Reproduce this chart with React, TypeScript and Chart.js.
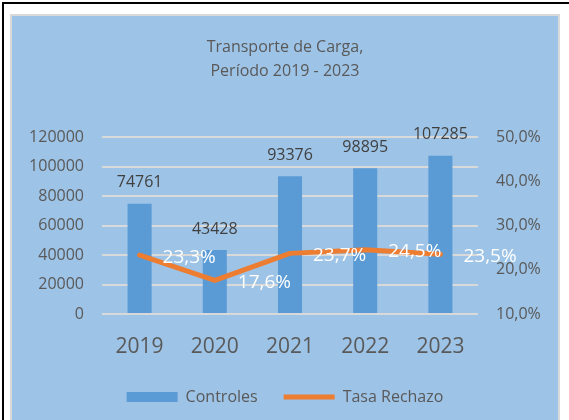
import React, { useEffect, useRef } from "react";
import { Chart, registerables } from "chart.js";

Chart.register(...registerables);

const categories = ["2019", "2020", "2021", "2022", "2023"];
const controles = [74761, 43428, 93376, 98895, 107285];
const tasaRechazo = [23.3, 17.6, 23.7, 24.5, 23.5];
const titleLines = ["Transporte de Carga,", "Período 2019 - 2023"];
const seriesNames = ["Controles", "Tasa Rechazo"];

const FONT = "'Open Sans', sans-serif";
const fmtPct = (v: number) => v.toFixed(1).replace(".", ",") + "%";

const labelsPlugin = {
  id: "valueLabels",
  afterDatasetsDraw(chart: any) {
    const ctx = chart.ctx;
    ctx.save();
    const barMeta = chart.getDatasetMeta(0);
    ctx.font = `16px ${FONT}`;
    ctx.fillStyle = "#404040";
    ctx.textAlign = "center";
    ctx.textBaseline = "middle";
    barMeta.data.forEach((el: any, i: number) => {
      ctx.fillText(String(controles[i]), el.x, el.y - 21);
    });
    const lineMeta = chart.getDatasetMeta(1);
    ctx.font = `19px ${FONT}`;
    ctx.fillStyle = "#ffffff";
    ctx.textAlign = "left";
    lineMeta.data.forEach((el: any, i: number) => {
      ctx.fillText(fmtPct(tasaRechazo[i]), el.x + 23, el.y + 2);
    });
    ctx.restore();
  },
};

export default function App() {
  const ref = useRef<HTMLCanvasElement>(null);
  useEffect(() => {
    if (!ref.current) return;
    const chart = new Chart(ref.current, {
      type: "bar",
      data: {
        labels: categories,
        datasets: [
          {
            type: "bar",
            label: seriesNames[0],
            data: controles,
            backgroundColor: "#5B9BD5",
            borderWidth: 0,
            categoryPercentage: 1,
            barPercentage: 0.32,
            yAxisID: "y",
            order: 1,
            pointStyle: "rect",
          } as any,
          {
            type: "line",
            label: seriesNames[1],
            data: tasaRechazo,
            borderColor: "#ED7D31",
            backgroundColor: "#ED7D31",
            borderWidth: 5,
            borderCapStyle: "round",
            borderJoinStyle: "round",
            pointRadius: 0,
            pointHoverRadius: 0,
            tension: 0,
            yAxisID: "y1",
            order: 0,
            pointStyle: "line",
          } as any,
        ],
      },
      options: {
        animation: false,
        responsive: false,
        maintainAspectRatio: false,
        layout: { padding: { top: 0, left: 0, right: 0, bottom: 5 } },
        plugins: {
          title: {
            display: true,
            text: titleLines,
            color: "#595959",
            font: { family: FONT, size: 16, weight: "normal", lineHeight: 1.5 },
            padding: { top: 19, bottom: 54 },
          },
          legend: {
            display: true,
            position: "bottom",
            labels: {
              usePointStyle: true,
              pointStyleWidth: 51,
              boxHeight: 10,
              padding: 26,
              color: "#595959",
              font: { family: FONT, size: 16 },
              sort: (a: any, b: any) => a.datasetIndex - b.datasetIndex,
            },
          },
          tooltip: { enabled: false },
        },
        scales: {
          x: {
            grid: { display: false, drawTicks: false },
            border: { display: false },
            ticks: { color: "#595959", font: { family: FONT, size: 21 }, padding: 20 },
            afterFit: (s: any) => {
              s.height = 49;
            },
          },
          y: {
            position: "left",
            min: 0,
            max: 120000,
            ticks: {
              stepSize: 20000,
              color: "#595959",
              font: { family: FONT, size: 16 },
              padding: 18,
              callback: (v: any) => String(v),
            },
            grid: { color: "#D9D9D9", lineWidth: 2, drawTicks: false },
            border: { display: false },
            afterFit: (s: any) => {
              s.width = 90;
            },
          },
          y1: {
            position: "right",
            min: 10,
            max: 50,
            ticks: {
              stepSize: 10,
              color: "#595959",
              font: { family: FONT, size: 16 },
              padding: 18,
              callback: (v: any) => fmtPct(Number(v)),
            },
            grid: { drawOnChartArea: false, drawTicks: false },
            border: { display: false },
            afterFit: (s: any) => {
              s.width = 80;
            },
          },
        },
      },
      plugins: [labelsPlugin],
    });
    return () => chart.destroy();
  }, []);

  return (
    <div
      style={{
        position: "absolute",
        left: 0,
        top: 0,
        width: 569,
        height: 420,
        background: "#ffffff",
        overflow: "hidden",
      }}
    >
      <div style={{ position: "absolute", left: 2, top: 2, width: 567, height: 2, background: "#000" }} />
      <div style={{ position: "absolute", left: 2, top: 2, width: 2, height: 418, background: "#000" }} />
      <div
        style={{
          position: "absolute",
          left: 10,
          top: 14,
          width: 546,
          height: 410,
          border: "2px solid #D9D9D9",
          background: "#9DC3E6",
        }}
      >
        <canvas ref={ref} width={546} height={404} style={{ display: "block", width: 546, height: 404 }} />
      </div>
    </div>
  );
}
